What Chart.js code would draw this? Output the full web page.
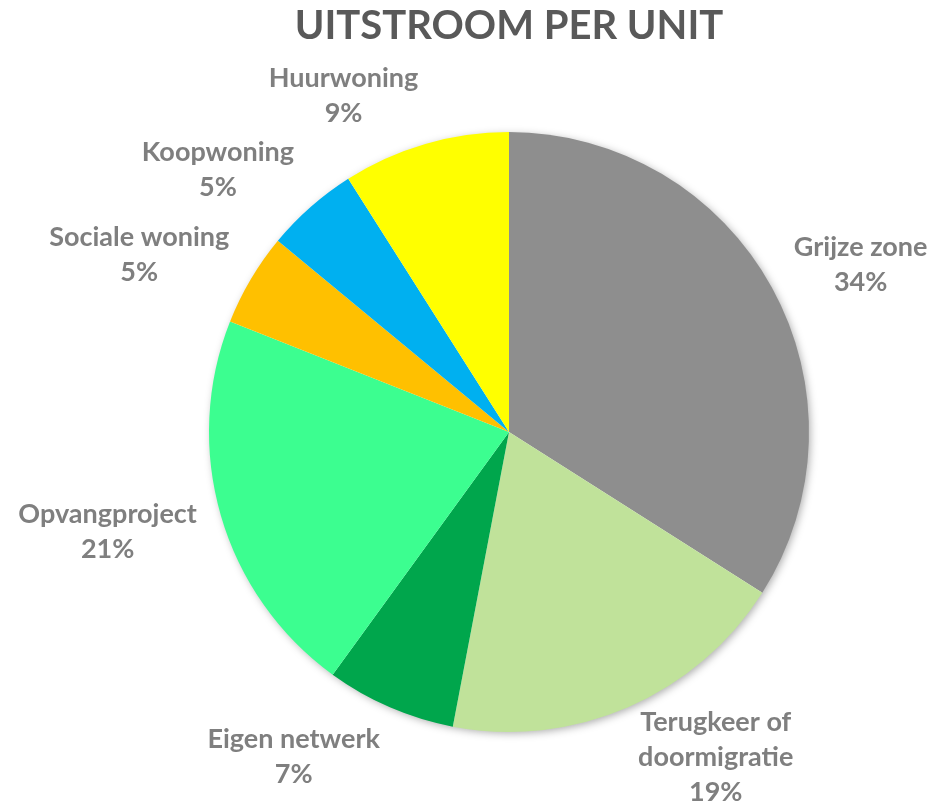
<!DOCTYPE html>
<html>
<head>
<meta charset="utf-8">
<script src="https://cdn.jsdelivr.net/npm/chart.js@4/dist/chart.umd.min.js"></script>
<style>
  html, body { margin: 0; padding: 0; background: #ffffff; }
  #wrap { width: 933px; height: 803px; position: relative; }
</style>
</head>
<body>
<div id="wrap"><canvas id="c" width="933" height="803"></canvas></div>
<script>
// ---- data ----
const chartTitle = "UITSTROOM PER UNIT";
const categories = ["Grijze zone", "Terugkeer of doormigratie", "Eigen netwerk", "Opvangproject", "Sociale woning", "Koopwoning", "Huurwoning"];
const labelLines = [["Grijze zone"], ["Terugkeer of", "doormigratie"], ["Eigen netwerk"], ["Opvangproject"], ["Sociale woning"], ["Koopwoning"], ["Huurwoning"]];
const shares = [34, 19, 7, 21, 5, 5, 9];
const sliceColors = ["#8e8e8e", "#c0e29a", "#00a64c", "#3cfe90", "#ffc000", "#00b0f0", "#ffff00"];

const LABEL_FONT = "bold 27px Lato";
const LABEL_LINE = 35;
const LABEL_HALF_H = 27;

const shadowPlugin = {
  id: 'pieShadow',
  beforeDatasetsDraw(chart) {
    const arc = chart.getDatasetMeta(0).data[0];
    if (!arc) return;
    const ctx = chart.ctx;
    ctx.save();
    ctx.shadowColor = 'rgba(0,0,0,0.35)';
    ctx.shadowBlur = 8;
    ctx.shadowOffsetX = 2;
    ctx.shadowOffsetY = 2;
    ctx.fillStyle = '#ffffff';
    ctx.beginPath();
    ctx.arc(arc.x, arc.y, arc.outerRadius - 1, 0, Math.PI * 2);
    ctx.fill();
    ctx.restore();
  }
};

const labelPlugin = {
  id: 'outsideLabels',
  afterDatasetsDraw(chart) {
    const ctx = chart.ctx;
    const meta = chart.getDatasetMeta(0);
    const total = shares.reduce((a, b) => a + b, 0);
    ctx.save();
    ctx.font = LABEL_FONT;
    ctx.fillStyle = '#7f7f7f';
    ctx.textAlign = 'center';
    ctx.textBaseline = 'middle';
    meta.data.forEach((arc, i) => {
      const mid = (arc.startAngle + arc.endAngle) / 2;
      const R = arc.outerRadius + 25;
      const px = arc.x + Math.cos(mid) * R;
      const py = arc.y + Math.sin(mid) * R;
      const lines = labelLines[i].concat([Math.round(shares[i] / total * 100) + "%"]);
      let w = 0;
      lines.forEach(l => { w = Math.max(w, ctx.measureText(l).width); });
      const sx = Math.cos(mid) >= 0 ? 1 : -1;
      const cx = px + sx * w / 2;
      const cy = py + Math.sin(mid) * LABEL_HALF_H + 2;
      const top = cy - (lines.length - 1) * LABEL_LINE / 2;
      lines.forEach((l, k) => ctx.fillText(l, cx, top + k * LABEL_LINE));
    });
    ctx.restore();
  }
};

new Chart(document.getElementById('c'), {
  type: 'pie',
  data: {
    labels: categories,
    datasets: [{
      data: shares,
      backgroundColor: sliceColors,
      borderWidth: 0
    }]
  },
  options: {
    responsive: false,
    animation: false,
    layout: { padding: { top: 0, left: 209, right: 124, bottom: 71 } },
    plugins: {
      legend: { display: false },
      tooltip: { enabled: false },
      title: {
        display: true,
        text: chartTitle,
        color: '#595959',
        font: { family: 'Lato', size: 40, weight: 'bold', lineHeight: 1.2 },
        padding: { top: 2, bottom: 82 }
      }
    }
  },
  plugins: [shadowPlugin, labelPlugin]
});
</script>
</body>
</html>
